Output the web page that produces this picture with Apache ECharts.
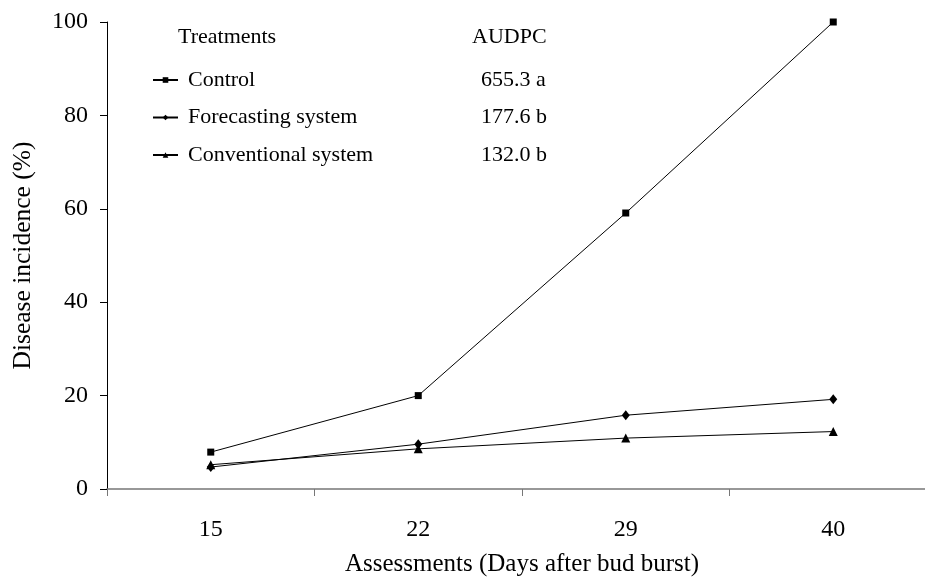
<!DOCTYPE html>
<html>
<head>
<meta charset="utf-8">
<script src="https://cdn.jsdelivr.net/npm/echarts@6/dist/echarts.min.js"></script>
<style>
html,body{margin:0;padding:0;background:#fff;}
#chart{width:925px;height:578px;}
</style>
</head>
<body>
<div id="chart"></div>
<script>
const categories = ['15', '22', '29', '40'];
const controlValues = [7.9, 20.0, 59.1, 100.0];
const forecastingValues = [4.7, 9.6, 15.8, 19.2];
const conventionalValues = [5.2, 8.6, 10.9, 12.3];
const seriesNames = ['Control', 'Forecasting system', 'Conventional system'];
const audpcValues = ['655.3 a', '177.6 b', '132.0 b'];
const yTicks = [0, 20, 40, 60, 80, 100];

const FONT = "'Liberation Serif', 'Times New Roman', serif";
const chart = echarts.init(document.getElementById('chart'), null, {renderer: 'canvas'});

const lineStyle = {color: '#000', width: 1};
function mk(name, data, symbol, size) {
  return {
    name: name, type: 'line', data: data,
    symbol: symbol, symbolSize: size,
    lineStyle: lineStyle,
    itemStyle: {color: '#000', borderWidth: 0},
    emphasis: {disabled: true},
    animation: false, z: 3
  };
}

const graphics = [
  {type: 'text', left: 178, top: 26, style: {text: 'Treatments', font: '22px ' + FONT, fill: '#000'}},
  {type: 'text', left: 472, top: 26, style: {text: 'AUDPC', font: '22px ' + FONT, fill: '#000'}}
];
audpcValues.forEach(function (v, i) {
  graphics.push({type: 'text', left: 481, top: 69 + i * 37.5, style: {text: v, font: '22px ' + FONT, fill: '#000'}});
});

chart.setOption({
  animation: false,
  backgroundColor: '#fff',
  grid: {left: 107, width: 830, top: 22, bottom: 89, containLabel: false, outerBoundsMode: 'none'},
  legend: {
    orient: 'vertical', left: 147, top: 64,
    itemWidth: 25, itemHeight: 7, itemGap: 15.5,
    data: seriesNames,
    textStyle: {fontFamily: FONT, fontSize: 22, color: '#000', padding: [0, 0, 0, 5]},
    selectedMode: false
  },
  xAxis: {
    type: 'category', data: categories, boundaryGap: true,
    name: 'Assessments (Days after bud burst)', nameLocation: 'middle', nameGap: 63,
    nameTextStyle: {fontFamily: FONT, fontSize: 25, color: '#000'},
    axisLine: {lineStyle: {color: '#777', width: 1.5}},
    axisTick: {show: true, inside: false, length: 7, alignWithLabel: false, lineStyle: {color: '#777', width: 1}},
    axisLabel: {fontFamily: FONT, fontSize: 24, color: '#000', margin: 29},
    splitLine: {show: false}
  },
  yAxis: {
    type: 'value', min: 0, max: 100, interval: 20,
    name: 'Disease incidence (%)', nameLocation: 'middle', nameGap: 71,
    nameTextStyle: {fontFamily: FONT, fontSize: 25.5, color: '#000'},
    axisLine: {show: true, lineStyle: {color: '#000', width: 1}},
    axisTick: {show: true, inside: false, length: 7, lineStyle: {color: '#000', width: 1}},
    axisLabel: {fontFamily: FONT, fontSize: 24, color: '#000', margin: 19,
      formatter: function (v) { return yTicks.indexOf(v) >= 0 ? String(v) : ''; }},
    splitLine: {show: false}
  },
  graphic: graphics,
  series: [
    mk(seriesNames[0], controlValues, 'rect', 7),
    mk(seriesNames[1], forecastingValues, 'diamond', [8, 10]),
    mk(seriesNames[2], conventionalValues, 'triangle', 9)
  ]
});
</script>
</body>
</html>
